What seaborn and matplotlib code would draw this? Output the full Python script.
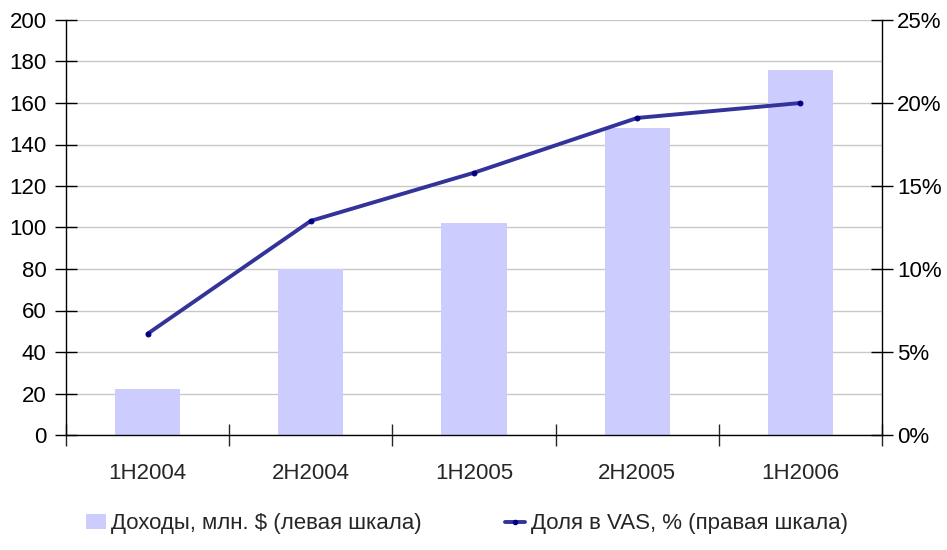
import matplotlib.pyplot as plt
import matplotlib.ticker as mticker
from matplotlib.patches import Patch
from matplotlib.lines import Line2D
import seaborn as sns
import numpy as np

periods = ['1H2004', '2H2004', '1H2005', '2H2005', '1H2006']
revenue = [22, 80, 102, 148, 176]          # млн. $, левая шкала
vas_share = [6.1, 12.9, 15.8, 19.1, 20.0]  # %, правая шкала

bar_color = '#CCCCFF'
line_color = '#333399'

sns.set_style('white')
plt.rcParams['font.family'] = ['Liberation Sans', 'DejaVu Sans']
plt.rcParams['font.size'] = 16

fig = plt.figure(figsize=(9.47, 5.5), dpi=100)
ax = fig.add_axes([66 / 947, 1 - 435 / 550, (882 - 66) / 947, 415 / 550])

sns.barplot(x=periods, y=revenue, color=bar_color, width=0.4,
            saturation=1, ax=ax, zorder=2, edgecolor='none')
ax.set_ylim(0, 200)
ax.set_xlim(-0.5, 4.5)
ax.yaxis.set_major_locator(mticker.MultipleLocator(20))
ax.grid(axis='y', color='#C8C8C8', linewidth=1, zorder=0)
ax.set_axisbelow(True)
ax.set_xlabel('')
ax.set_ylabel('')

ax2 = ax.twinx()
sns.lineplot(x=np.arange(len(periods)), y=vas_share, color=line_color,
             linewidth=2.8, marker='o', markersize=3.5,
             markerfacecolor='#000080', markeredgecolor='#000080', ax=ax2)
ax2.set_ylim(0, 25)
ax2.yaxis.set_major_locator(mticker.MultipleLocator(5))
ax2.yaxis.set_major_formatter(mticker.FuncFormatter(lambda v, p: f'{v:.0f}%'))
ax2.set_ylabel('')

for a in (ax, ax2):
    for s in a.spines.values():
        s.set_visible(False)
ax.spines['left'].set_visible(True)
ax.spines['bottom'].set_visible(True)
ax2.spines['right'].set_visible(True)
for s in (ax.spines['left'], ax.spines['bottom'], ax2.spines['right']):
    s.set_color('black')
    s.set_linewidth(1)

ax.tick_params(axis='y', direction='inout', length=16, width=1, pad=6,
               labelsize=16, colors='black', left=True)
ax2.tick_params(axis='y', direction='inout', length=16, width=1, pad=3,
                labelsize=16, colors='black', right=True)
# category boundaries as ticks on x
ax.set_xticks(np.arange(-0.5, 4.6, 1), minor=True)
ax.tick_params(axis='x', which='minor', direction='inout', length=16, width=1,
               bottom=True)
ax.tick_params(axis='x', which='major', length=0, pad=20, labelsize=16)

handles = [Patch(facecolor=bar_color, edgecolor='none'),
           Line2D([0], [0], color=line_color, linewidth=2.8, marker='o',
                  markersize=3, markerfacecolor='#000080',
                  markeredgecolor='#000080')]
labels = ['Доходы, млн. $ (левая шкала)', 'Доля в VAS, % (правая шкала)']
fig.legend(handles, labels, loc='lower left', bbox_to_anchor=(70 / 947, 0.0),
           ncol=2, frameon=False, fontsize=16, handlelength=0.9,
           handletextpad=0.25, columnspacing=3.75, borderaxespad=0.3)

fig.savefig('out.png', dpi=100)
